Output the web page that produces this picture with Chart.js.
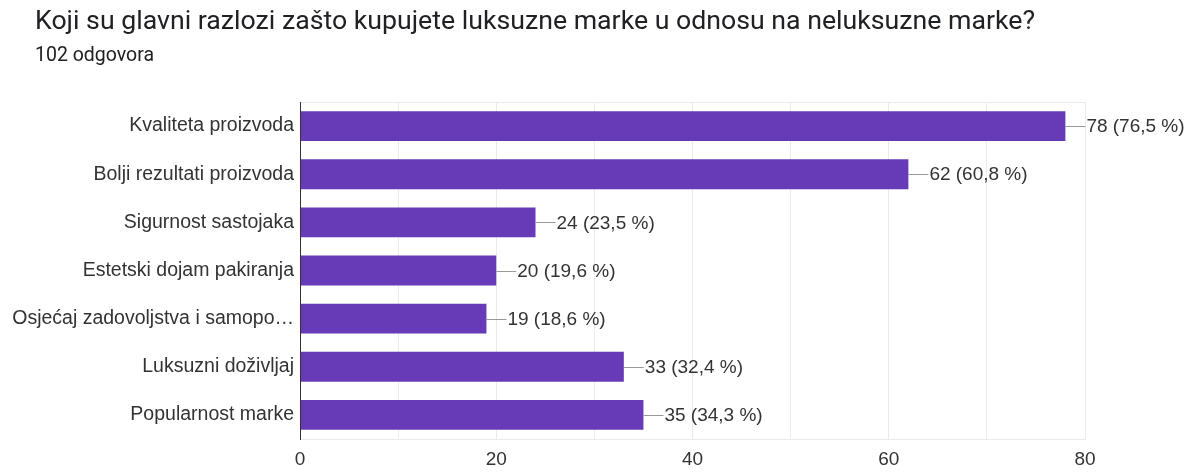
<!DOCTYPE html>
<html>
<head>
<meta charset="utf-8">
<script src="https://cdn.jsdelivr.net/npm/chart.js@4"></script>
<style>
  html, body { margin: 0; padding: 0; background: #fff; }
  #wrap { width: 1195px; height: 472px; }
</style>
</head>
<body>
<div id="wrap"><canvas id="barChart"></canvas></div>
<script>
// podaci s grafikona
const categories = [
  'Kvaliteta proizvoda',
  'Bolji rezultati proizvoda',
  'Sigurnost sastojaka',
  'Estetski dojam pakiranja',
  'Osjećaj zadovoljstva i samopo…',
  'Luksuzni doživljaj',
  'Popularnost marke'
];
const counts = [78, 62, 24, 20, 19, 33, 35];
const percents = ['76,5', '60,8', '23,5', '19,6', '18,6', '32,4', '34,3'];
const xTicks = [0, 20, 40, 60, 80];

const naslov = 'Koji su glavni razlozi zašto kupujete luksuzne marke u odnosu na neluksuzne marke?';
const podnaslov = '102 odgovora';

const TITLE_FONT = 'Roboto, "Noto Sans", sans-serif';
const AXIS_FONT = '"Liberation Sans", Arial, sans-serif';

// naslov i podnaslov (lijevo poravnati na x=35)
const headerPlugin = {
  id: 'header',
  afterDraw(chart) {
    const { ctx } = chart;
    ctx.save();
    ctx.fillStyle = '#202124';
    ctx.textBaseline = 'middle';
    ctx.textAlign = 'left';
    ctx.font = '26.7px ' + TITLE_FONT;
    ctx.fillText(naslov, 35, 22.5);
    ctx.font = '19.5px ' + TITLE_FONT;
    ctx.fillText(podnaslov, 35, 56.5);
    ctx.restore();
  }
};

// okvir oko grafa i oznake vrijednosti s linijom
const labelsPlugin = {
  id: 'valueLabels',
  beforeDatasetsDraw(chart) {
    const { ctx, chartArea } = chart;
    ctx.save();
    ctx.strokeStyle = '#ebebeb';
    ctx.lineWidth = 1;
    ctx.beginPath();
    ctx.moveTo(chartArea.left, chartArea.top + 0.5);
    ctx.lineTo(chartArea.right, chartArea.top + 0.5);
    ctx.stroke();
    ctx.restore();
  },
  afterDatasetsDraw(chart) {
    const { ctx } = chart;
    const meta = chart.getDatasetMeta(0);
    ctx.save();
    ctx.font = '19px ' + AXIS_FONT;
    ctx.textBaseline = 'middle';
    meta.data.forEach((bar, i) => {
      const x = bar.x;
      const y = bar.y;
      ctx.strokeStyle = '#999';
      ctx.lineWidth = 1;
      ctx.beginPath();
      ctx.moveTo(x, Math.round(y) + 0.5);
      ctx.lineTo(x + 20, Math.round(y) + 0.5);
      ctx.stroke();
      ctx.fillStyle = '#333';
      ctx.fillText(counts[i] + ' (' + percents[i] + ' %)', x + 21, y + 1);
    });
    // tamna osnovna linija na nuli
    const x0 = Math.round(chart.scales.x.getPixelForValue(0)) + 0.5;
    ctx.strokeStyle = '#333';
    ctx.beginPath();
    ctx.moveTo(x0, chart.chartArea.top);
    ctx.lineTo(x0, chart.chartArea.bottom + 1);
    ctx.stroke();
    ctx.restore();
  }
};

const ctx = document.getElementById('barChart');
new Chart(ctx, {
  type: 'bar',
  data: {
    labels: categories,
    datasets: [{
      data: counts,
      backgroundColor: '#673ab7',
      borderWidth: 0,
      categoryPercentage: 1,
      barPercentage: 0.62
    }]
  },
  options: {
    indexAxis: 'y',
    responsive: true,
    maintainAspectRatio: false,
    animation: false,
    layout: { padding: { left: 0, right: 110, top: 102, bottom: 0 } },
    plugins: {
      legend: { display: false },
      tooltip: { enabled: false },
      title: { display: false }
    },
    scales: {
      x: {
        min: 0,
        max: 80,
        afterFit(scale) { scale.height = 33; },
        afterBuildTicks(scale) {
          scale.ticks = [0, 10, 20, 30, 40, 50, 60, 70, 80].map(v => ({ value: v }));
        },
        ticks: {
          padding: 9,
          color: '#333',
          font: { family: AXIS_FONT, size: 19 },
          callback: v => xTicks.includes(v) ? String(v) : ''
        },
        grid: { color: '#ebebeb', drawTicks: false },
        border: { color: '#ebebeb' }
      },
      y: {
        afterFit(scale) { scale.width = 300; },
        ticks: {
          padding: 6,
          color: '#333',
          font: { family: AXIS_FONT, size: 19.5 }
        },
        grid: { display: false, drawTicks: false },
        border: { display: false }
      }
    }
  },
  plugins: [labelsPlugin, headerPlugin]
});
</script>
</body>
</html>
